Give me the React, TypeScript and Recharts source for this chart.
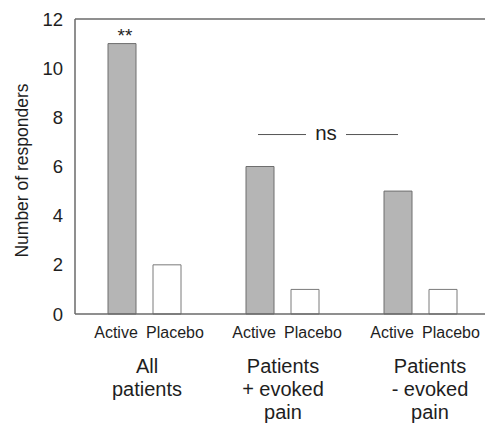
import { Bar, BarChart, LabelList, ReferenceLine, XAxis, YAxis } from 'recharts'

const groups = ['All patients', 'Patients + evoked pain', 'Patients - evoked pain']
const groupLabelLines = [
  ['All', 'patients'],
  ['Patients', '+ evoked', 'pain'],
  ['Patients', '- evoked', 'pain'],
]
const activeValues = [11, 6, 5]
const placeboValues = [2, 1, 1]
const significance = ['**', '', '']
const yTicks = [0, 2, 4, 6, 8, 10, 12]
const nsLevel = 7.3
const nsText = 'ns'

const FONT = 'Arial, "Liberation Sans", sans-serif'
const AXIS = '#6a6a6a'
const TEXT = '#1e1e1e'

// small horizontal nudges of the group captions, as in the figure
const groupLabelShift = [3, 1, 10]

const chartData = groups.map((name, index) => ({
  name,
  active: activeValues[index] ?? 0,
  placebo: placeboValues[index] ?? 0,
  sig: significance[index] ?? '',
}))

const GroupTick = (props: any) => {
  const { x, y, index } = props
  const lines = groupLabelLines[index] ?? []
  const shift = groupLabelShift[index] ?? 0
  return (
    <g fontFamily={FONT} fill={TEXT}>
      <text x={x - 28} y={y + 24} textAnchor="middle" fontSize={16} fill={TEXT}>
        Active
      </text>
      <text x={x + 31} y={y + 24} textAnchor="middle" fontSize={16} fill={TEXT}>
        Placebo
      </text>
      {lines.map((line, i) => (
        <text
          key={line}
          x={x + shift}
          y={y + 58.5 + i * 23}
          textAnchor="middle"
          fontSize={20}
          fill={TEXT}
        >
          {line}
        </text>
      ))}
    </g>
  )
}

const SigLabel = (props: any) => {
  const { x, y, width, index } = props
  const mark = significance[index]
  if (!mark) return null
  return (
    <text x={x + width / 2 + 3} y={y - 2} textAnchor="middle" fontSize={19} fontFamily={FONT} fill={TEXT}>
      {mark}
    </text>
  )
}

const NsBracket = (props: any) => {
  const { x1, y1, x2 } = props
  const cx = (x1 + x2) / 2 - 23
  return (
    <g>
      <line x1={cx - 70} x2={cx - 22} y1={y1} y2={y1} stroke="#555" strokeWidth={1} />
      <line x1={cx + 18} x2={cx + 70} y1={y1} y2={y1} stroke="#555" strokeWidth={1} />
      <text x={cx - 2} y={y1 + 5} textAnchor="middle" fontSize={20.5} fontFamily={FONT} fill={TEXT}>
        {nsText}
      </text>
    </g>
  )
}

const YLabel = (props: any) => {
  const { x, y, height } = props.viewBox
  const cx = x + 22
  const cy = y + height / 2 + 4
  return (
    <text
      x={cx}
      y={cy}
      transform={`rotate(-90, ${cx}, ${cy})`}
      textAnchor="middle"
      dominantBaseline="central"
      fontSize={17.5}
      fontFamily={FONT}
      fill={TEXT}
    >
      Number of responders
    </text>
  )
}

const App = () => {
  return (
    <div style={{ position: 'absolute', left: 0, top: 0, width: 485, height: 423, overflow: 'hidden', background: '#fff' }}>
      <BarChart
        width={489}
        height={423}
        data={chartData}
        margin={{ top: 19, right: 0, left: 0, bottom: 0 }}
        barSize={28}
        barGap={17}
      >
        <XAxis
          dataKey="name"
          interval={0}
          height={109}
          tickLine={false}
          tickSize={0}
          tickMargin={0}
          axisLine={{ stroke: AXIS, strokeWidth: 1.5 }}
          tick={<GroupTick />}
        />
        <YAxis
          width={75}
          domain={[0, 12]}
          ticks={yTicks}
          interval={0}
          tickLine={false}
          tickSize={2}
          tickMargin={10}
          axisLine={{ stroke: AXIS, strokeWidth: 1.5 }}
          tick={{ fontSize: 18.5, fill: TEXT, fontFamily: FONT }}
          label={{ content: YLabel }}
        />
        <ReferenceLine y={12} stroke={AXIS} strokeWidth={1.5} />
        <ReferenceLine
          segment={[
            { x: groups[1], y: nsLevel },
            { x: groups[2], y: nsLevel },
          ]}
          shape={NsBracket}
        />
        <Bar dataKey="active" fill="#b5b5b5" stroke="#6e6e6e" strokeWidth={1} isAnimationActive={false}>
          <LabelList dataKey="sig" content={SigLabel} />
        </Bar>
        <Bar dataKey="placebo" fill="#ffffff" stroke="#7a7a7a" strokeWidth={1} isAnimationActive={false} />
      </BarChart>
    </div>
  )
}

export default App
